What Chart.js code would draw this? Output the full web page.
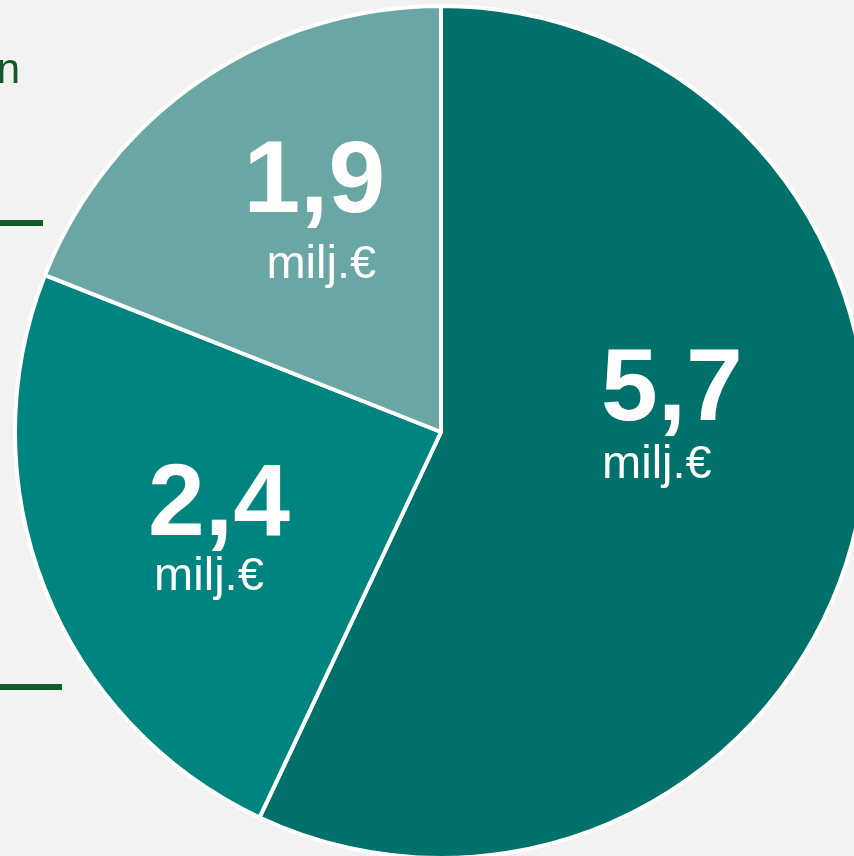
<!DOCTYPE html>
<html>
<head>
<meta charset="utf-8">
<script src="https://cdn.jsdelivr.net/npm/chart.js@4/dist/chart.umd.min.js"></script>
<style>
    html, body { margin: 0; padding: 0; background: #f2f2f2; }
    #wrap { width: 854px; height: 856px; overflow: hidden; position: relative; }
    #chart { position: absolute; left: 0; top: 0; }
</style>
</head>
<body>
<div id="wrap">
    <canvas id="chart" width="882" height="864"></canvas>
</div>
<script>
const values = [5.7, 2.4, 1.9];
const valueLabels = ["5,7", "2,4", "1,9"];
const unitLabel = "milj.€";
const colors = ["#00706b", "#00847f", "#6aa6a3"];

// label shifts from each slice's tooltip point: [number dx, dy, unit dx, dy]
const labelShift = [
    [23, -58, 8, 0],
    [-24, 25, -34, 80],
    [-7, -44, 0, 22]
];

const sliceLabels = {
    id: "sliceLabels",
    afterDatasetsDraw(chart) {
        const ctx = chart.ctx;
        const arcs = chart.getDatasetMeta(0).data;
        ctx.save();
        ctx.fillStyle = "#ffffff";
        ctx.textAlign = "center";
        ctx.textBaseline = "alphabetic";
        arcs.forEach((arc, i) => {
            const p = arc.tooltipPosition();
            const s = labelShift[i];
            ctx.font = "bold 102px 'Liberation Sans', Arial, sans-serif";
            ctx.fillText(valueLabels[i], p.x + s[0], p.y + s[1]);
            ctx.font = "47px 'Liberation Sans', Arial, sans-serif";
            ctx.fillText(unitLabel, p.x + s[2], p.y + s[3]);
        });
        ctx.restore();
    }
};

// bits of the surrounding slide that stick into the crop
const sideMarks = {
    id: "sideMarks",
    afterDraw(chart) {
        const ctx = chart.ctx;
        ctx.save();
        ctx.fillStyle = "#12592a";
        ctx.font = "42px 'Liberation Sans', Arial, sans-serif";
        ctx.textAlign = "right";
        ctx.textBaseline = "alphabetic";
        ctx.fillText("n", 20, 83);
        ctx.fillRect(0, 220, 43, 6);
        ctx.fillRect(0, 684, 62, 6);
        ctx.restore();
    }
};

new Chart(document.getElementById("chart"), {
    type: "pie",
    data: {
        labels: valueLabels,
        datasets: [{
            data: values,
            backgroundColor: colors,
            borderColor: "#ffffff",
            borderWidth: 4
        }]
    },
    options: {
        responsive: false,
        devicePixelRatio: 1,
        animation: false,
        radius: 426,
        layout: { padding: 0 },
        plugins: {
            legend: { display: false },
            tooltip: { enabled: false }
        }
    },
    plugins: [sliceLabels, sideMarks]
});
</script>
</body>
</html>
